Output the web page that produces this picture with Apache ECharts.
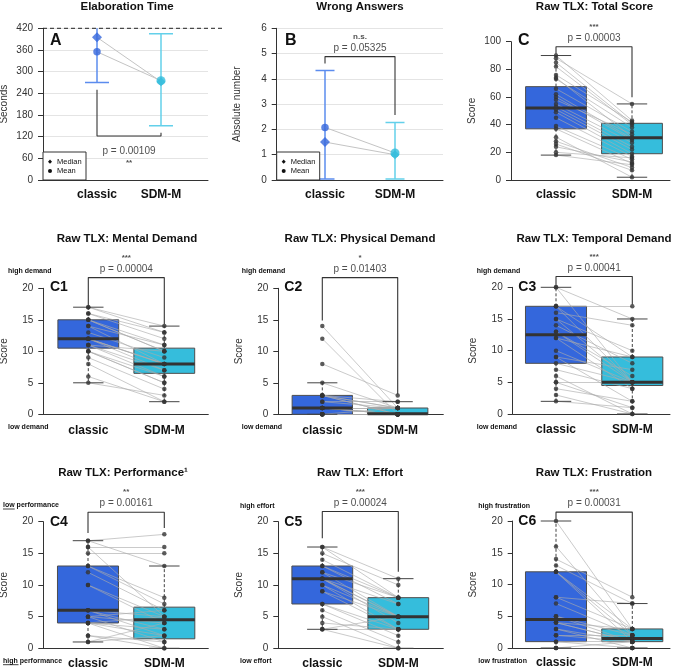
<!DOCTYPE html>
<html>
<head>
<meta charset="utf-8">
<script src="https://cdn.jsdelivr.net/npm/echarts@6/dist/echarts.min.js"></script>
<style>
  html, body { margin: 0; background: #fff; }
  #chart { width: 677px; height: 669px; }
</style>
</head>
<body>
<div id="chart"></div>
<script>
const groups = ['classic', 'SDM-M'];

// A - elaboration time (seconds): mean, median and error bar ends
const timeMean = [355, 275];
const timeMedian = [395, 272];
const timeLow = [270, 150];
const timeHigh = [440, 405];
const timeLimit = 420;
const timeBracket = [250, 122, 131];

// B - wrong answers
const wrongMean = [2.08, 1.07];
const wrongMedian = [1.5, 1.0];
const wrongLow = [0.04, 0.04];
const wrongHigh = [4.33, 2.27];
const wrongBracket = [4.61, 4.88, 2.57];

// C..C6 - raw TLX per participant, box stats [min, q1, median, q3, max], bracket [classic end, top, SDM-M end]
const totalClassic = [90, 88, 85, 82, 76, 74, 73, 66, 62, 60, 58, 55, 53, 51, 49, 45, 39, 37, 31, 28, 26, 24, 20, 18];
const totalSdm = [43, 55, 41, 40, 42, 31, 38, 35, 30, 29, 33, 27, 24, 22, 19, 17, 15, 12, 2, 9, 7, 13, 16, 11];
const totalBox = [[18, 37, 52, 67.5, 90], [2, 19, 30.5, 41, 55]];
const totalBracket = [91, 96.4, 59.8];

const mentalClassic = [17, 17, 16, 16, 15, 15, 15, 14, 14, 13, 12, 12, 12, 12, 11, 11, 11, 10, 10, 10, 9, 8, 6, 5];
const mentalSdm = [14, 13, 12, 13, 11, 10, 10, 11, 8, 9, 8, 8, 7, 8, 7, 10, 6, 6, 5, 5, 4, 2, 2, 3];
const mentalBox = [[5, 10.5, 12, 15, 17], [2, 6.5, 8, 10.5, 14]];
const mentalBracket = [17.3, 21.7, 14.3];

const physClassic = [14, 12, 8, 5, 3, 3, 3, 3, 3, 2, 2, 1, 1, 1, 1, 1, 1, 0, 0, 0, 0, 0, 0, 0];
const physSdm = [1, 0, 3, 1, 2, 1, 1, 0, 0, 1, 2, 1, 0, 0, 0, 1, 0, 0, 0, 0, 0, 1, 0, 0];
const physBox = [[0, 0, 1, 3, 5], [0, 0, 0.1, 1, 2]];
const physBracket = [14.9, 21.7, 3.2];

const tempClassic = [20, 20, 17, 17, 17, 16, 15, 15, 14, 13, 13, 12, 12, 10, 9, 9, 8, 7, 6, 5, 5, 4, 3, 2];
const tempSdm = [15, 5, 17, 9, 5, 14, 5, 10, 8, 6, 5, 4, 9, 5, 2, 7, 5, 4, 0, 1, 5, 2, 0, 1];
const tempBox = [[2, 8, 12.5, 17, 20], [0, 4.5, 5, 9, 15]];
const tempBracket = [20.3, 21.7, 17.3];

const perfClassic = [17, 17, 16, 16, 15, 13, 13, 12, 10, 10, 6, 6, 6, 5, 5, 5, 4, 4, 4, 4, 2, 2, 1, 1];
const perfSdm = [18, 13, 16, 5, 15, 7, 8, 6, 5, 4, 5, 3, 2, 4, 1, 6, 2, 3, 0, 5, 1, 0, 4, 2];
const perfBox = [[1, 4, 6, 13, 17], [0, 1.5, 4.5, 6.5, 13]];
const perfBracket = [18.2, 21.5, 19.0];

const effortClassic = [16, 16, 15, 14, 13, 13, 12, 12, 11, 11, 11, 11, 10, 10, 9, 9, 7, 7, 6, 5, 4, 3, 3, 3];
const effortSdm = [11, 8, 10, 8, 7, 8, 5, 8, 5, 7, 4, 5, 5, 3, 5, 3, 3, 2, 1, 0, 3, 0, 3, 5];
const effortBox = [[3, 7, 11, 13, 16], [0, 3, 5, 8, 11]];
const effortBracket = [17.4, 21.6, 12.1];

const frustClassic = [20, 16, 14, 13, 12, 12, 12, 8, 8, 7, 5, 5, 4, 4, 4, 3, 3, 2, 2, 1, 1, 0, 0, 0];
const frustSdm = [3, 2, 8, 7, 3, 2, 1, 7, 3, 2, 1, 2, 1, 1, 3, 0, 1, 2, 1, 0, 1, 0, 1, 0];
const frustBox = [[0, 1, 4.5, 12, 20], [0, 1, 1.5, 3, 7]];
const frustBracket = [20.2, 21.4, 8.2];

const FONT = '"Liberation Sans", Arial, Helvetica, sans-serif';
const BLUE = '#3467dc', CYAN = '#35bddc';
const BLUE_BAR = '#5b8cee', CYAN_BAR = '#63d0ea';
const BOX_HALF = 0.4, CAP_HALF = 0.2;

const panels = [
  {kind: 'mean', title: 'Elaboration Time', tag: 'A', yName: 'Seconds', yMax: 420, step: 60,
   mean: timeMean, median: timeMedian, low: timeLow, high: timeHigh, bracket: timeBracket,
   p: 'p = 0.00109', stars: '**', below: true, cap: 12,
   x0: 43, c1: 97, c2: 161, xr: 208, top: 28.3, bottom: 180, tx: 127, ty: 7, tagX: 50, tagY: 41, gap: 9},
  {kind: 'mean', title: 'Wrong Answers', tag: 'B', yName: 'Absolute number', yMax: 6, step: 1,
   mean: wrongMean, median: wrongMedian, low: wrongLow, high: wrongHigh, bracket: wrongBracket,
   p: 'p = 0.05325', stars: 'n.s.', cap: 9.5,
   x0: 276.7, c1: 325, c2: 395, xr: 443, top: 28.3, bottom: 180, tx: 360, ty: 7, tagX: 285, tagY: 41, gap: 9},
  {kind: 'box', title: 'Raw TLX: Total Score', tag: 'C', yName: 'Score', yMax: 100, step: 20,
   classic: totalClassic, sdm: totalSdm, box: totalBox, bracket: totalBracket, p: 'p = 0.00003', stars: '***',
   x0: 511, c1: 556, c2: 632, xr: 670, top: 41.7, bottom: 180, tx: 594.5, ty: 7, tagX: 518, tagY: 41, gap: 9},
  {kind: 'box', title: 'Raw TLX: Mental Demand', tag: 'C1', yName: 'Score', yMax: 20, step: 5,
   classic: mentalClassic, sdm: mentalSdm, box: mentalBox, bracket: mentalBracket, p: 'p = 0.00004', stars: '***',
   hi: 'high demand', lo: 'low demand', sx: 8, hiY: 270.7, loY: 426.7,
   x0: 43.3, c1: 88.3, c2: 164.3, xr: 208.3, top: 288.3, bottom: 414.3, tx: 127, ty: 239, tagX: 50, tagY: 287.5, gap: 10},
  {kind: 'box', title: 'Raw TLX: Physical Demand', tag: 'C2', yName: 'Score', yMax: 20, step: 5,
   classic: physClassic, sdm: physSdm, box: physBox, bracket: physBracket, p: 'p = 0.01403', stars: '*',
   hi: 'high demand', lo: 'low demand', sx: 241.7, hiY: 270.7, loY: 426.7,
   x0: 278.3, c1: 322.3, c2: 397.7, xr: 443.3, top: 288.3, bottom: 414.3, tx: 360, ty: 239, tagX: 284.3, tagY: 287.5, gap: 10},
  {kind: 'box', title: 'Raw TLX: Temporal Demand', tag: 'C3', yName: 'Score', yMax: 20, step: 5,
   classic: tempClassic, sdm: tempSdm, box: tempBox, bracket: tempBracket, p: 'p = 0.00041', stars: '***',
   hi: 'high demand', lo: 'low demand', sx: 476.7, hiY: 270.7, loY: 426.7,
   x0: 512.7, c1: 556, c2: 632.3, xr: 670, top: 287.3, bottom: 414, tx: 594, ty: 239, tagX: 518.3, tagY: 287.5, gap: 10},
  {kind: 'box', title: 'Raw TLX: Performance\u00b9', tag: 'C4', yName: 'Score', yMax: 20, step: 5,
   classic: perfClassic, sdm: perfSdm, box: perfBox, bracket: perfBracket, p: 'p = 0.00161', stars: '**',
   hi: 'low performance', lo: 'high performance', underline: true, sx: 3, hiY: 505, loY: 660.7,
   x0: 43.3, c1: 88, c2: 164.3, xr: 208.3, top: 521.7, bottom: 648.3, tx: 123, ty: 472.7, tagX: 50, tagY: 521.7, gap: 9},
  {kind: 'box', title: 'Raw TLX: Effort', tag: 'C5', yName: 'Score', yMax: 20, step: 5,
   classic: effortClassic, sdm: effortSdm, box: effortBox, bracket: effortBracket, p: 'p = 0.00024', stars: '***',
   hi: 'high effort', lo: 'low effort', sx: 240, hiY: 505.7, loY: 660.7,
   x0: 278.3, c1: 322.3, c2: 398.3, xr: 443.3, top: 521.7, bottom: 648.3, tx: 360, ty: 472.7, tagX: 284.3, tagY: 521.7, gap: 9},
  {kind: 'box', title: 'Raw TLX: Frustration', tag: 'C6', yName: 'Score', yMax: 20, step: 5,
   classic: frustClassic, sdm: frustSdm, box: frustBox, bracket: frustBracket, p: 'p = 0.00031', stars: '***',
   hi: 'high frustration', lo: 'low frustration', sx: 478.3, hiY: 505.7, loY: 660.7,
   x0: 512.7, c1: 556, c2: 632.3, xr: 670, top: 521, bottom: 648, tx: 594, ty: 472.7, tagX: 518.3, tagY: 521, gap: 9}
];

function seg(a, b, style) {
  return {type: 'line', shape: {x1: a[0], y1: a[1], x2: b[0], y2: b[1]}, style: style};
}

function renderBox(params, api) {
  const x = api.value(0);
  const lo = api.coord([x - BOX_HALF, api.value(2)]);
  const hi = api.coord([x + BOX_HALF, api.value(4)]);
  return {
    type: 'rect',
    shape: {x: lo[0], y: hi[1], width: hi[0] - lo[0], height: lo[1] - hi[1]},
    style: {fill: api.visual('color'), stroke: '#4d4d4d', lineWidth: 1}
  };
}

function renderWhisker(params, api) {
  const x = api.value(0);
  const v = [1, 2, 3, 4, 5].map(i => api.value(i));
  const c = (xx, yy) => api.coord([xx, yy]);
  const dash = {stroke: '#444', lineWidth: 1, lineDash: [3, 2]};
  const solid = {stroke: '#444', lineWidth: 1};
  return {type: 'group', children: [
    seg(c(x, v[3]), c(x, v[4]), dash),
    seg(c(x, v[1]), c(x, v[0]), dash),
    seg(c(x - CAP_HALF, v[4]), c(x + CAP_HALF, v[4]), solid),
    seg(c(x - CAP_HALF, v[0]), c(x + CAP_HALF, v[0]), solid),
    seg(c(x - BOX_HALF, v[2]), c(x + BOX_HALF, v[2]), {stroke: '#333', lineWidth: 3})
  ]};
}

function errorBar(cap) {
  return function (params, api) {
    const x = api.value(0);
    const lo = api.coord([x, api.value(1)]);
    const hi = api.coord([x, api.value(2)]);
    const style = {stroke: api.visual('color'), lineWidth: 1.5};
    return {type: 'group', children: [
      seg(lo, hi, style),
      seg([lo[0] - cap, lo[1]], [lo[0] + cap, lo[1]], style),
      seg([hi[0] - cap, hi[1]], [hi[0] + cap, hi[1]], style)
    ]};
  };
}

const grids = [], xAxes = [], yAxes = [], series = [], graphics = [];

function text(x, y, str, font, align, extra) {
  graphics.push(Object.assign({type: 'text', x: x, y: y, z: 100,
    style: {text: str, font: font, fill: '#111', textAlign: align || 'center', textVerticalAlign: 'middle'}}, extra || {}));
}

panels.forEach((p, i) => {
  const unit = p.c2 - p.c1;
  const ax = {xAxisIndex: i, yAxisIndex: i};
  grids.push({left: p.x0, top: p.top, width: p.xr - p.x0, height: p.bottom - p.top,
    containLabel: false, outerBoundsMode: 'none'});
  xAxes.push({
    type: 'value', gridIndex: i,
    min: 1 - (p.c1 - p.x0) / unit, max: 2 + (p.xr - p.c2) / unit,
    axisLine: {show: true, onZero: false, lineStyle: {color: '#333', width: 1}},
    axisTick: {show: false}, splitLine: {show: false},
    axisLabel: {customValues: [1, 2], formatter: v => groups[Math.round(v) - 1],
      margin: p.gap, fontSize: 12, fontWeight: 'bold', color: '#111', fontFamily: FONT}
  });
  yAxes.push({
    type: 'value', gridIndex: i, min: 0, max: p.yMax, interval: p.step,
    name: p.yName, nameLocation: 'middle', nameGap: 34, nameRotate: 90,
    nameTextStyle: {fontSize: 10, color: '#333', fontFamily: FONT},
    axisLine: {show: true, onZero: false, lineStyle: {color: '#333'}},
    axisTick: {show: true, length: 5, lineStyle: {color: '#333'}},
    axisLabel: {fontSize: 10, color: '#333', margin: 10, fontFamily: FONT},
    splitLine: {show: p.kind === 'mean', lineStyle: {color: '#e4e4e4', width: 1}}
  });

  if (p.kind === 'mean') {
    series.push({type: 'custom', ...ax, clip: true, silent: true, z: 2, renderItem: errorBar(p.cap),
      encode: {x: 0, y: [1, 2]},
      data: [0, 1].map(k => ({value: [k + 1, p.low[k], p.high[k]], itemStyle: {color: k ? CYAN_BAR : BLUE_BAR}}))});
    series.push({type: 'lines', coordinateSystem: 'cartesian2d', ...ax, silent: true, z: 3,
      lineStyle: {color: '#c4c4c4', width: 1, opacity: 1},
      data: [p.median, p.mean].map(v => ({coords: [[1, v[0]], [2, v[1]]]}))});
    series.push({type: 'scatter', ...ax, silent: true, z: 4, symbol: 'diamond',
      data: [0, 1].map(k => ({value: [k + 1, p.median[k]], symbolSize: k ? 9 : 10,
        itemStyle: {color: k ? CYAN : BLUE}}))});
    series.push({type: 'scatter', ...ax, silent: true, z: 5, symbol: 'circle',
      data: [0, 1].map(k => ({value: [k + 1, p.mean[k]], symbolSize: k ? 9 : 7.5,
        itemStyle: {color: k ? CYAN : BLUE}}))});
    // legend box
    const lx = p.x0;
    graphics.push({type: 'rect', z: 90, shape: {x: lx, y: 152, width: 43, height: 28},
      style: {fill: '#fff', stroke: '#333', lineWidth: 1}});
    graphics.push({type: 'polygon', z: 100, shape: {points: [[lx + 7, 159.6], [lx + 9, 161.7], [lx + 7, 163.8], [lx + 5, 161.7]]},
      style: {fill: '#111'}});
    graphics.push({type: 'circle', z: 100, shape: {cx: lx + 7, cy: 171, r: 2}, style: {fill: '#111'}});
    text(lx + 14, 161.7, 'Median', '7.5px ' + FONT, 'left');
    text(lx + 14, 171, 'Mean', '7.5px ' + FONT, 'left');
  } else {
    const boxData = [0, 1].map(k => ({value: [k + 1].concat(p.box[k]), itemStyle: {color: k ? CYAN : BLUE}}));
    series.push({type: 'custom', ...ax, silent: true, z: 1, renderItem: renderBox,
      encode: {x: 0, y: [1, 2, 3, 4, 5]}, data: boxData});
    series.push({type: 'lines', coordinateSystem: 'cartesian2d', ...ax, silent: true, z: 2,
      lineStyle: {color: '#aaaaaa', width: 0.7, opacity: 0.9},
      data: p.classic.map((v, k) => ({coords: [[1, v], [2, p.sdm[k]]]}))});
    series.push({type: 'custom', ...ax, silent: true, z: 3, renderItem: renderWhisker,
      encode: {x: 0, y: [1, 2, 3, 4, 5]}, data: boxData});
    series.push({type: 'scatter', ...ax, silent: true, z: 4, symbolSize: 4.5, itemStyle: {color: '#333'},
      data: p.classic.map(v => [1, v]).concat(p.sdm.map(v => [2, v]))});
    if (p.hi) {
      const f = 'bold 7px ' + FONT;
      text(p.sx, p.hiY, p.hi, f, 'left');
      text(p.sx, p.loY, p.lo, f, 'left');
      if (p.underline) {
        const w1 = p.hi.split(' ')[0].length > 3 ? 15.5 : 11.7;
        const w2 = p.lo.split(' ')[0].length > 3 ? 15.5 : 11.7;
        graphics.push({type: 'line', z: 100, shape: {x1: p.sx, y1: p.hiY + 4, x2: p.sx + w1, y2: p.hiY + 4}, style: {stroke: '#111', lineWidth: 0.8}});
        graphics.push({type: 'line', z: 100, shape: {x1: p.sx, y1: p.loY + 4, x2: p.sx + w2, y2: p.loY + 4}, style: {stroke: '#111', lineWidth: 0.8}});
      }
    }
  }

  const b = p.bracket;
  series.push({type: 'line', ...ax, silent: true, z: 6, clip: false, symbol: 'none', showSymbol: false,
    lineStyle: {color: '#333', width: 1.1},
    data: [[1, b[0]], [1, b[1]], [2, b[1]], [2, b[2]]]});
  series.push({type: 'scatter', ...ax, silent: true, z: 7, clip: false, symbolSize: 1,
    itemStyle: {color: 'rgba(0,0,0,0)'},
    label: {show: true, position: p.below ? 'bottom' : 'top', distance: p.below ? 9 : 2,
      formatter: () => p.below ? '{p|' + p.p + '}\n{s|' + p.stars + '}' : '{s|' + p.stars + '}\n{p|' + p.p + '}',
      rich: {
        p: {fontSize: 10, lineHeight: 12, color: '#222', fontFamily: FONT},
        s: {fontSize: 8, lineHeight: 11, color: '#222', fontFamily: FONT, fontWeight: 'bold'}
      }},
    data: [[1.5, b[1]]]});

  text(p.tx, p.ty, p.title, 'bold 11.5px ' + FONT);
  text(p.tagX, p.tagY, p.tag, 'bold ' + (p.tag.length > 1 ? 14 : 16) + 'px ' + FONT, 'left');
});

const chart = echarts.init(document.getElementById('chart'));
chart.setOption({
  animation: false,
  backgroundColor: '#fff',
  grid: grids, xAxis: xAxes, yAxis: yAxes, series: series
});

// dashed time limit line of panel A reaches past the plot area
const limitY = chart.convertToPixel({gridIndex: 0}, [1, timeLimit])[1];
graphics.push({type: 'line', z: 80, shape: {x1: panels[0].x0, y1: limitY, x2: 224, y2: limitY},
  style: {stroke: '#222', lineWidth: 1, lineDash: [4, 3]}});
chart.setOption({graphic: graphics});
</script>
</body>
</html>
